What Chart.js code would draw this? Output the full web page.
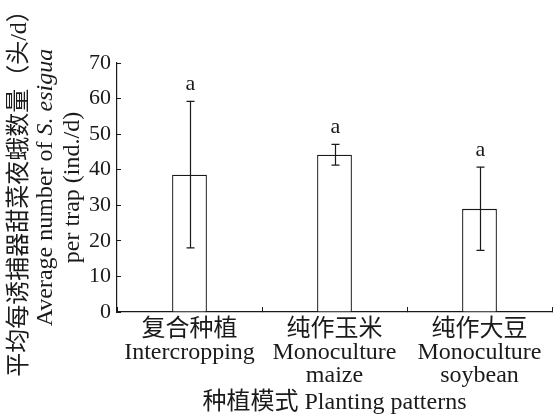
<!DOCTYPE html>
<html>
<head>
<meta charset="utf-8">
<script src="https://cdn.jsdelivr.net/npm/chart.js@4/dist/chart.umd.min.js"></script>
<style>
  html, body { margin: 0; padding: 0; background: #fff; }
  #wrap { width: 553px; height: 420px; }
</style>
</head>
<body>
<div id="wrap"><canvas id="trapChart" width="553" height="420"></canvas></div>
<script>
const categories = [
    ["复合种植", "Intercropping"],
    ["纯作玉米", "Monoculture", "maize"],
    ["纯作大豆", "Monoculture", "soybean"]
];
const means = [38.6, 44.2, 29.0];
const errors = [20.6, 2.9, 11.7];
const letters = ["a", "a", "a"];
const yMin = 0, yMax = 70, yStep = 10;

const FONT = "'Liberation Serif', 'Noto Sans CJK SC', serif";
const INK = "#1a1a1a";

// error bars + significance letters
const errorBarPlugin = {
    id: "errorBars",
    afterDatasetsDraw(chart) {
        const ctx = chart.ctx;
        const meta = chart.getDatasetMeta(0);
        const y = chart.scales.y;
        ctx.save();
        ctx.strokeStyle = INK;
        ctx.lineWidth = 1.2;
        meta.data.forEach(function (bar, i) {
            const x = Math.round(bar.x) + 0.5;
            const top = y.getPixelForValue(means[i] + errors[i]);
            const bot = y.getPixelForValue(means[i] - errors[i]);
            ctx.beginPath();
            ctx.moveTo(x, top); ctx.lineTo(x, bot);
            ctx.moveTo(x - 4, top); ctx.lineTo(x + 4, top);
            ctx.moveTo(x - 4, bot); ctx.lineTo(x + 4, bot);
            ctx.stroke();
            ctx.fillStyle = INK;
            ctx.font = "22px " + FONT;
            ctx.textAlign = "center";
            ctx.textBaseline = "alphabetic";
            ctx.fillText(letters[i], x, top - 11);
        });
        ctx.restore();
    }
};

// rotated y title with italic species name
const yTitlePlugin = {
    id: "yTitle",
    afterDraw(chart) {
        const ctx = chart.ctx;
        const area = chart.chartArea;
        const cy = (area.top + area.bottom) / 2;
        const lines = [
            { x: 20, parts: [["平均每诱捕器甜菜夜蛾数量（头/d）", ""]] },
            { x: 46, parts: [["Average number of ", ""], ["S. esigua", "italic "]] },
            { x: 73, parts: [["per trap (ind./d)", ""]] }
        ];
        ctx.save();
        ctx.fillStyle = INK;
        ctx.textBaseline = "middle";
        ctx.textAlign = "left";
        lines.forEach(function (line) {
            let total = 0;
            line.parts.forEach(function (p) {
                ctx.font = p[1] + "24px " + FONT;
                total += ctx.measureText(p[0]).width;
            });
            ctx.save();
            ctx.translate(line.x, cy);
            ctx.rotate(-Math.PI / 2);
            let pos = -total / 2;
            line.parts.forEach(function (p) {
                ctx.font = p[1] + "24px " + FONT;
                ctx.fillText(p[0], pos, 0);
                pos += ctx.measureText(p[0]).width;
            });
            ctx.restore();
        });
        ctx.restore();
    }
};

const ctx = document.getElementById("trapChart").getContext("2d");

new Chart(ctx, {
    type: "bar",
    data: {
        labels: categories,
        datasets: [{
            data: means,
            backgroundColor: "#ffffff",
            borderColor: INK,
            borderWidth: 1.3,
            barPercentage: 0.24,
            categoryPercentage: 1
        }]
    },
    options: {
        responsive: false,
        animation: false,
        events: [],
        layout: { padding: { top: 63, right: 1, left: 0, bottom: 0 } },
        scales: {
            x: {
                afterFit: function (s) { s.height = 108; },
                grid: {
                    offset: true,
                    drawOnChartArea: false,
                    drawTicks: true,
                    tickLength: -5,
                    color: INK
                },
                border: { color: INK, width: 1.2 },
                ticks: {
                    color: INK,
                    padding: 11,
                    maxRotation: 0,
                    autoSkip: false,
                    font: { family: FONT, size: 24, lineHeight: "23px" }
                },
                title: {
                    display: true,
                    text: "种植模式 Planting patterns",
                    color: INK,
                    font: { family: FONT, size: 24, lineHeight: 1.2 },
                    padding: { top: 0, bottom: 3 }
                }
            },
            y: {
                min: yMin,
                max: yMax,
                afterFit: function (s) { s.width = 117; },
                grid: {
                    drawOnChartArea: false,
                    drawTicks: true,
                    tickLength: -4,
                    color: INK
                },
                border: { color: INK, width: 1.2 },
                ticks: {
                    stepSize: yStep,
                    color: INK,
                    padding: 10,
                    font: { family: FONT, size: 22 }
                }
            }
        },
        plugins: {
            legend: { display: false },
            tooltip: { enabled: false }
        }
    },
    plugins: [errorBarPlugin, yTitlePlugin]
});
</script>
</body>
</html>
